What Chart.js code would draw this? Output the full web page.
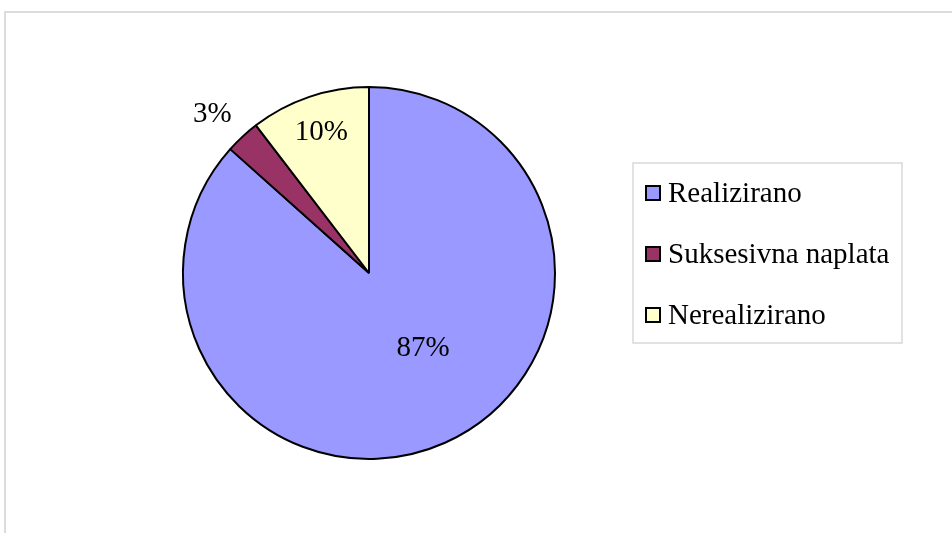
<!DOCTYPE html>
<html>
<head>
<meta charset="utf-8">
<script src="https://cdn.jsdelivr.net/npm/chart.js@4/dist/chart.umd.min.js"></script>
<style>
    body { margin: 0; background: #fff; overflow: hidden; }
    #frame { position: absolute; left: 4px; top: 11px; width: 1000px; height: 600px; border: 2px solid #dcdcdc; }
    #c { position: absolute; left: 0; top: 0; }
</style>
</head>
<body>
<div id="frame"></div>
<canvas id="c" width="952" height="533"></canvas>
<script>
// DATA
const categories = ["Realizirano", "Suksesivna naplata", "Nerealizirano"]
const values = [86.6, 3.0, 10.4]
const percentLabels = ["87%", "3%", "10%"]
const colors = ["#9999FF", "#993366", "#FFFFCC"]

// posisi label relatif ke jari-jari (r * faktor), 3% di luar
const labelRadius = [0.5, 1.2, 0.8]
const labelAngleShift = [-0.2, -0.03, 0]

const FONT = "29px 'Liberation Serif', 'Times New Roman', serif"

// LABEL PERSEN
const pieLabels = {
    id: "pieLabels",
    afterDatasetsDraw(chart) {
        const ctx = chart.ctx
        const meta = chart.getDatasetMeta(0)
        ctx.save()
        ctx.font = FONT
        ctx.fillStyle = "#000"
        ctx.textAlign = "center"
        ctx.textBaseline = "middle"
        meta.data.forEach((arc, i) => {
            const mid = (arc.startAngle + arc.endAngle) / 2 + labelAngleShift[i]
            const r = arc.outerRadius * labelRadius[i]
            ctx.fillText(percentLabels[i], arc.x + Math.cos(mid) * r, arc.y + Math.sin(mid) * r)
        })
        ctx.restore()
    }
}

// LEGEND DENGAN KOTAK
const boxLegend = {
    id: "boxLegend",
    afterDraw(chart) {
        const ctx = chart.ctx
        const left = 633, top = 163, width = 269, height = 180
        ctx.save()
        ctx.strokeStyle = "#d9d9d9"
        ctx.lineWidth = 1.5
        ctx.strokeRect(left, top, width, height)

        ctx.font = FONT
        ctx.textBaseline = "middle"
        categories.forEach((name, i) => {
            const y = 193 + i * 61
            ctx.fillStyle = colors[i]
            ctx.fillRect(646, y - 7, 14, 14)
            ctx.strokeStyle = "#000"
            ctx.lineWidth = 2
            ctx.strokeRect(646, y - 7, 14, 14)
            ctx.fillStyle = "#000"
            ctx.fillText(name, 668, y + 1)
        })
        ctx.restore()
    }
}

new Chart(document.getElementById("c"), {
    type: "pie",
    data: {
        labels: categories,
        datasets: [{
            data: values,
            backgroundColor: colors,
            borderColor: "#000",
            borderWidth: 2,
            borderAlign: "center"
        }]
    },
    options: {
        responsive: false,
        animation: false,
        layout: {
            padding: { left: 182, top: 85, right: 396, bottom: 72 }
        },
        plugins: {
            legend: { display: false },
            tooltip: { enabled: false }
        }
    },
    plugins: [pieLabels, boxLegend]
})
</script>
</body>
</html>
